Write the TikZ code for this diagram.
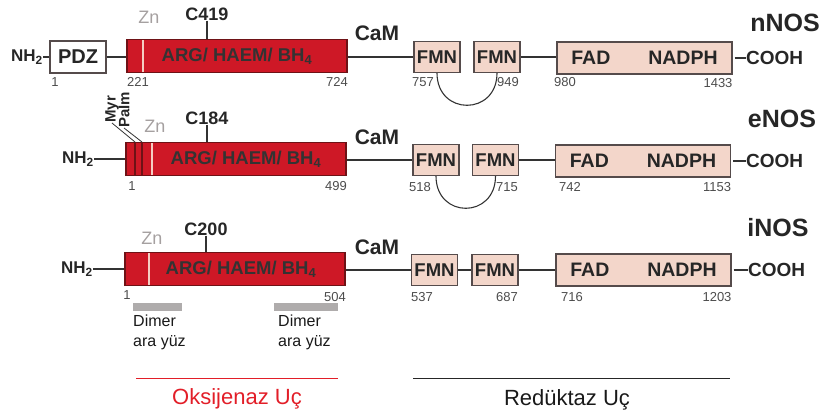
\documentclass[tikz,border=0pt]{standalone}
\usepackage{fontspec}
\setmainfont{Liberation Sans}
\definecolor{oxred}{RGB}{206,24,38}
\definecolor{redline}{RGB}{110,18,22}
\definecolor{pinkbox}{RGB}{243,214,202}
\definecolor{boxline}{RGB}{85,75,75}
\definecolor{zngray}{RGB}{165,160,160}
\definecolor{znstripe}{RGB}{245,205,195}
\definecolor{bargray}{RGB}{175,172,172}
\definecolor{labred}{RGB}{226,30,40}
\newcommand{\fs}[1]{\fontsize{#1}{#1}\selectfont}

\begin{document}
\begin{tikzpicture}[x=1pt, y=-1pt,
    dom/.style={draw=boxline, line width=1.1pt, fill=pinkbox, inner sep=0pt, text=black!85, font=\bfseries\fs{18.5}},
    oxy/.style={dom, draw=redline, fill=oxred, text=black!80, minimum width=220pt, minimum height=33pt},
    fmn/.style={dom, minimum width=46pt, minimum height=31pt},
    fad/.style={dom, minimum width=175pt, minimum height=32pt, font=\bfseries\fs{19.5}},
    link/.style={line width=1.1pt, black!80},
    lbl/.style={inner sep=0pt, text=black!85, font=\bfseries\fs{#1}},
    num/.style={inner sep=0pt, text=black!70, font=\fs{13}},
    zn/.style={inner sep=0pt, text=zngray, font=\fs{18}},
    znline/.style={znstripe, line width=2pt},
    lipid/.style={redline, line width=1.6pt},
    dimer/.style={inner sep=0pt, anchor=north west, align=left, text=black!90, font=\fontsize{16}{20}\selectfont}]
    \useasboundingbox (0,0) rectangle (821,415);

    % --- nNOS (y = 57) ---
    \node[lbl=25] (nnos) at (785,23) {nNOS};
    \node[lbl=17, anchor=east] (nh1) at (43,57) {NH\textsubscript{2}};
    \node[dom, fill=white, minimum width=56pt, minimum height=32pt, font=\bfseries\fs{20}] (pdz1) at (78,57) {PDZ};
    \node[oxy] (arg1) at (237,56) {ARG/ HAEM/ BH\textsubscript{4}};
    \draw[znline] (143,40) -- (143,72); % Zn
    \node[zn] (zn1) at (149,17) {Zn};
    \node[lbl=18] (c1) at (207,14) {C419};
    \draw[link] (c1.south) -- (c1.south |- arg1.north);
    \node[lbl=21] (cam1) at (377,33) {CaM};
    \node[fmn] (fmn1a) at (437,57) {FMN};
    \node[fmn] (fmn1b) at (497,57) {FMN};
    \node[fad] (fad1) at (644.5,58) {FAD\hspace{38pt}NADPH};
    \node[lbl=19, anchor=west] (cooh1) at (746,58) {COOH};
    \draw[link] (nh1.east) -- (pdz1.west);
    \draw[link] (pdz1) -- (arg1.west |- pdz1);
    \draw[link] (arg1.east |- fmn1a) -- (fmn1a);
    \draw[link] (fmn1b) -- (fad1.west |- fmn1b);
    \draw[link] ([xshift=2pt]fad1.east) -- (cooh1.west);
    \draw[link] (fmn1a.south) .. controls +(0,43) and +(0,43) .. (fmn1b.south);
    % 残基编号
    \node[num] (n1a) at (55,82) {1};
    \node[num] (n1b) at (138,82) {221};
    \node[num] (n1c) at (337,82) {724};
    \node[num] (n1d) at (423,82) {757};
    \node[num] (n1e) at (508,82) {949};
    \node[num] (n1f) at (565,82) {980};
    \node[num] (n1g) at (718,83) {1433};

    % --- eNOS (y = 160) ---
    \node[lbl=25] (enos) at (782,119) {eNOS};
    \node[lbl=17, anchor=east] (nh2) at (94,159) {NH\textsubscript{2}};
    \node[oxy] (arg2) at (236,159) {\hspace{20pt}ARG/ HAEM/ BH\textsubscript{4}};
    \draw[lipid] (135,143) -- (135,175);
    \draw[lipid] (142,143) -- (142,175);
    \draw[znline] (152,143) -- (152,175);
    \node[lbl=15, rotate=90, anchor=west] (myr) at (112,123) {Myr};
    \node[lbl=15, rotate=90, anchor=west] (palm) at (124,128) {Palm};
    \coordinate (myrend) at (135,142);
    \coordinate (palmend) at (142,142);
    \draw[line width=0.8pt, black!80] (myr.west) -- (myrend);
    \draw[line width=0.8pt, black!80] (palm.west) -- (palmend);
    \node[zn] (zn2) at (155,126) {Zn};
    \node[lbl=18] (c2) at (207,118) {C184};
    \draw[link] (c2.south) -- (c2.south |- arg2.north);
    \node[lbl=21] (cam2) at (377,137) {CaM};
    \node[fmn] (fmn2a) at (436,160) {FMN};
    \node[fmn] (fmn2b) at (495.5,160) {FMN};
    \node[fad] (fad2) at (643,161) {FAD\hspace{38pt}NADPH};
    \node[lbl=19, anchor=west] (cooh2) at (746,161) {COOH};
    \draw[link] (nh2.east) -- (arg2.west |- nh2.east);
    \draw[link] (arg2.east |- fmn2a) -- (fmn2a);
    \draw[link] (fmn2b) -- (fad2.west |- fmn2b);
    \draw[link] ([xshift=2pt]fad2.east) -- (cooh2.west);
    \draw[link] (fmn2a.south) .. controls +(0,43) and +(0,43) .. (fmn2b.south);
    \node[num] (n2a) at (132,186) {1};
    \node[num] (n2b) at (336,186) {499};
    \node[num] (n2c) at (420,187) {518};
    \node[num] (n2d) at (507,187) {715};
    \node[num] (n2e) at (570,187) {742};
    \node[num] (n2f) at (717,187) {1153};

    % --- iNOS (y = 270) ---
    \node[lbl=25] (inos) at (778,228) {iNOS};
    \node[lbl=17, anchor=east] (nh3) at (93,269) {NH\textsubscript{2}};
    \node[oxy] (arg3) at (235,269) {\hspace{12pt}ARG/ HAEM/ BH\textsubscript{4}};
    \draw[znline] (149,253) -- (149,285);
    \node[zn] (zn3) at (152,238) {Zn};
    \node[lbl=18] (c3) at (206,229) {C200};
    \draw[link] (c3.south) -- (c3.south |- arg3.north);
    \node[lbl=21] (cam3) at (377,247) {CaM};
    \node[fmn] (fmn3a) at (434.5,270) {FMN};
    \node[fmn] (fmn3b) at (495,270) {FMN};
    \node[fad] (fad3) at (643.5,270) {FAD\hspace{38pt}NADPH};
    \node[lbl=19, anchor=west] (cooh3) at (748,270) {COOH};
    \draw[link] (nh3.east) -- (arg3.west |- nh3.east);
    \draw[link] (arg3.east |- fmn3a) -- (fmn3a);
    \draw[link] (fmn3a) -- (fmn3b);
    \draw[link] (fmn3b) -- (fad3);
    \draw[link] ([xshift=2pt]fad3.east) -- (cooh3.west);
    \node[num] (n3a) at (127,295) {1};
    \node[num] (n3b) at (335,297) {504};
    \node[num] (n3c) at (422,297) {537};
    \node[num] (n3d) at (507,297) {687};
    \node[num] (n3e) at (572,297) {716};
    \node[num] (n3f) at (717,297) {1203};

    % 二聚体界面
    \fill[bargray] (133,303) rectangle (182,311);
    \fill[bargray] (274,303) rectangle (338,311);
    \node[dimer] (dim1) at (133,315) {Dimer\\ara yüz};
    \node[dimer] (dim2) at (278,315) {Dimer\\ara yüz};

    % --- 两个结构域 ---
    \coordinate (oxl) at (136,378);
    \coordinate (oxr) at (338,378);
    \draw[labred, line width=0.9pt] (oxl) -- (oxr);
    \node[text=labred, font=\fs{22}] (oxlab) at (237,399) {Oksijenaz Uç};
    \coordinate (rdl) at (413,378);
    \coordinate (rdr) at (730,378);
    \draw[black!85, line width=0.9pt] (rdl) -- (rdr);
    \node[text=black!90, font=\fs{22}] (rdlab) at (567,400) {Redüktaz Uç};
\end{tikzpicture}
\end{document}
